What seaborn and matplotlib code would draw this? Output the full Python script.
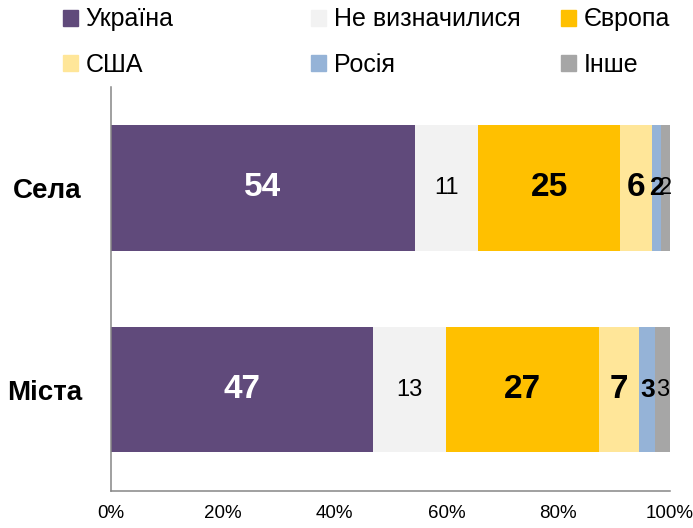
import matplotlib
matplotlib.use("Agg")
import matplotlib.pyplot as plt
import matplotlib.patches as mpatches
from matplotlib import font_manager
import numpy as np
import pandas as pd
import seaborn as sns

categories = ["Села", "Міста"]
series = ["Україна", "Не визначилися", "Європа", "США", "Росія", "Інше"]
selo = [54.3, 11.4, 25.4, 5.6, 1.7, 1.6]
misto = [46.8, 13.2, 27.3, 7.2, 2.9, 2.6]
labels_selo = ["54", "11", "25", "6", "2", "2"]
labels_misto = ["47", "13", "27", "7", "3", "3"]
colors = ["#604A7B", "#F2F2F2", "#FFC000", "#FFE699", "#95B3D7", "#A6A6A6"]
xticks = [0, 20, 40, 60, 80, 100]

sns.set_theme(style="white")
names = {f.name for f in font_manager.fontManager.ttflist}
fam = "Liberation Sans Narrow" if "Liberation Sans Narrow" in names else "Liberation Sans"
plt.rcParams["font.family"] = [fam, "DejaVu Sans"]
plt.rcParams["text.color"] = "black"
plt.rcParams["xtick.labelcolor"] = "black"
plt.rcParams["ytick.labelcolor"] = "black"

df = pd.DataFrame({"cat": np.repeat(categories, len(series)),
                   "series": series * len(categories),
                   "value": selo + misto})
df["cum"] = df.groupby("cat", sort=False)["value"].cumsum()

fig = plt.figure(figsize=(6.93, 5.28), dpi=100)
ax = fig.add_axes([0.1602, 0.0706, 0.8066, 0.7646])

# stacked bars: draw cumulative totals from back to front
for s, c in reversed(list(zip(series, colors))):
    sub = df[df["series"] == s]
    sns.barplot(data=sub, x="cum", y="cat", order=categories, color=c,
                orient="h", width=0.62, saturation=1, ax=ax, linewidth=0)

label_styles = [
    dict(color="white", fontsize=24, fontweight="bold"),
    dict(color="black", fontsize=17, fontweight="normal"),
    dict(color="black", fontsize=24, fontweight="bold"),
    dict(color="black", fontsize=24, fontweight="bold"),
    dict(color="black", fontsize=19, fontweight="bold"),
    dict(color="black", fontsize=17, fontweight="normal"),
]
for yi, (vals, labs) in enumerate([(selo, labels_selo), (misto, labels_misto)]):
    cum = np.cumsum(vals)
    for i, (v, lab) in enumerate(zip(vals, labs)):
        ax.text(cum[i] - v / 2, yi, lab, ha="center", va="center", **label_styles[i])

ax.set_xlim(0, 100)
ax.set_ylim(1.5, -0.5)
ax.set_xticks(xticks)
ax.set_xticklabels([f"{t}%" for t in xticks], fontsize=13.5)
ax.set_yticks([-0.5, 0.5, 1.5])
ax.set_yticklabels([])
ax.set_yticks([0, 1], minor=True)
ax.set_yticklabels(categories, minor=True, fontsize=20, fontweight="bold")
ax.tick_params(axis="y", which="minor", length=0, pad=21)
ax.tick_params(axis="y", which="major", length=7, width=1.1, color="#868686", direction="out")
ax.tick_params(axis="x", which="major", length=5, width=1.1, color="#868686",
               direction="out", pad=5)
ax.set_xlabel("")
ax.set_ylabel("")
for sp in ["top", "right"]:
    ax.spines[sp].set_visible(False)
for sp in ["left", "bottom"]:
    ax.spines[sp].set_color("#868686")
    ax.spines[sp].set_linewidth(1.1)

# legend: three fixed-position columns of two entries each
handles = [mpatches.Patch(color=c, label=s) for s, c in zip(series, colors)]
col_x = [63, 311, 561]
for k, x0 in enumerate(col_x):
    pair = [handles[k], handles[k + 3]]
    leg = fig.legend(pair, [h.get_label() for h in pair], loc="center left",
                     bbox_to_anchor=(x0 / 693, 1 - 42 / 528), frameon=False,
                     fontsize=18, handlelength=0.6, handleheight=0.6,
                     handletextpad=0.3, labelspacing=0.85, borderpad=0,
                     borderaxespad=0)

fig.savefig("out.png", dpi=100)
